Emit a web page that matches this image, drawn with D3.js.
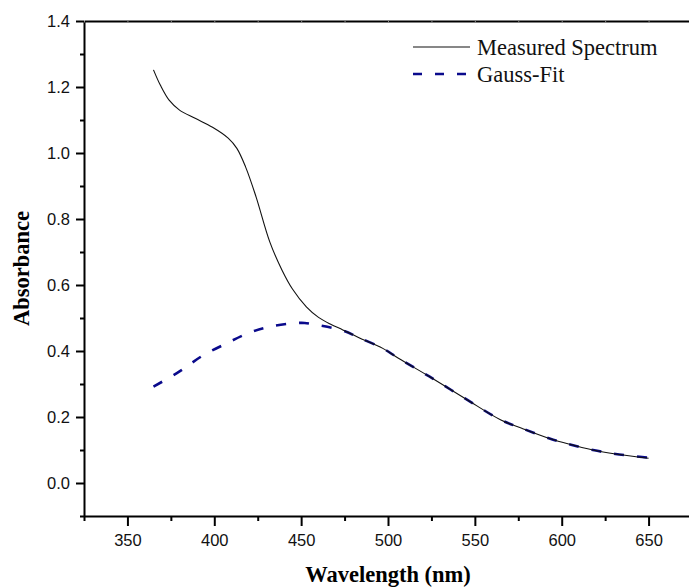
<!DOCTYPE html>
<html>
<head>
<meta charset="utf-8">
<script src="https://cdn.jsdelivr.net/npm/d3@7"></script>
<style>
  body { margin: 0; background: #fff; }
  svg { display: block; }
  .tick text { font-family: "Liberation Sans", Arial, sans-serif; font-size: 16.5px; fill: #111; }
</style>
</head>
<body>
<div id="chart"></div>
<script>
// wavelength (nm) and absorbance
const measuredWl = [365, 369, 374, 380, 389, 399, 408, 413, 418, 424, 432, 439, 445, 453, 460, 467, 474, 483, 497, 506, 524, 545, 565, 577, 593, 604, 618, 631, 650];
const measuredAbs = [1.252, 1.205, 1.160, 1.130, 1.105, 1.078, 1.045, 1.014, 0.958, 0.868, 0.730, 0.645, 0.588, 0.534, 0.502, 0.481, 0.464, 0.441, 0.408, 0.378, 0.322, 0.254, 0.191, 0.166, 0.135, 0.118, 0.100, 0.088, 0.075];

const fitWl = [365, 380, 393, 407, 420, 432, 446, 452, 459, 474, 483, 497, 506, 524, 545, 565, 577, 593, 604, 618, 631, 650];
const fitAbs = [0.292, 0.338, 0.385, 0.423, 0.455, 0.474, 0.484, 0.485, 0.479, 0.462, 0.441, 0.408, 0.378, 0.322, 0.254, 0.191, 0.166, 0.135, 0.118, 0.100, 0.088, 0.077];

const xTicks = [350, 400, 450, 500, 550, 600, 650];
const yTicks = [0.0, 0.2, 0.4, 0.6, 0.8, 1.0, 1.2, 1.4];
const seriesNames = ['Measured Spectrum', 'Gauss-Fit'];

const width = 689;
const height = 587;
const margin = { top: 21, right: -3, bottom: 71, left: 84 };

const x = d3.scaleLinear().domain([325, 675]).range([margin.left, width - margin.right]);
const y = d3.scaleLinear().domain([-0.1, 1.4]).range([height - margin.bottom, margin.top]);

const svg = d3.select('#chart').append('svg')
  .attr('width', width)
  .attr('height', height);

const line = d3.line()
  .x(d => x(d[0]))
  .y(d => y(d[1]))
  .curve(d3.curveCatmullRom.alpha(0.5));

const measured = measuredWl.map((w, i) => [w, measuredAbs[i]]);
const fit = fitWl.map((w, i) => [w, fitAbs[i]]);

svg.append('path')
  .datum(fit)
  .attr('d', line)
  .attr('fill', 'none')
  .attr('stroke', '#0a0a8c')
  .attr('stroke-width', 2.6)
  .attr('stroke-dasharray', '10,13');

svg.append('path')
  .datum(measured)
  .attr('d', line)
  .attr('fill', 'none')
  .attr('stroke', '#111')
  .attr('stroke-width', 1.1);

// minor ticks first, then major with labels
const xMinor = d3.range(325, 676, 50);
const yMinor = d3.range(-0.1, 1.45, 0.2);

svg.append('g')
  .attr('transform', `translate(0,${y(-0.1)})`)
  .call(d3.axisBottom(x).tickValues(xMinor).tickSize(5).tickFormat(''))
  .call(g => g.select('.domain').remove())
  .selectAll('line').attr('stroke-width', 2);

svg.append('g')
  .attr('transform', `translate(${x(325)},0)`)
  .call(d3.axisLeft(y).tickValues(yMinor).tickSize(4).tickFormat(''))
  .call(g => g.select('.domain').remove())
  .selectAll('line').attr('stroke-width', 2);

const xAxis = svg.append('g')
  .attr('transform', `translate(0,${y(-0.1)})`)
  .call(d3.axisBottom(x).tickValues(xTicks).tickSize(10).tickPadding(8).tickSizeOuter(0));
xAxis.select('.domain').attr('stroke-width', 2);
xAxis.selectAll('line').attr('stroke-width', 2);

const yAxis = svg.append('g')
  .attr('transform', `translate(${x(325)},0)`)
  .call(d3.axisLeft(y).tickValues(yTicks).tickSize(8).tickPadding(6).tickFormat(d3.format('.1f')).tickSizeOuter(0));
yAxis.select('.domain').attr('stroke-width', 2);
yAxis.selectAll('line').attr('stroke-width', 2);
yAxis.selectAll('text').attr('dy', '0.36em');

// top frame
svg.append('g')
  .attr('transform', `translate(0,${y(1.4)})`)
  .call(d3.axisBottom(x).tickValues(d3.range(325, 676, 25)).tickSize(1.5).tickFormat('').tickSizeOuter(0))
  .call(g => g.select('.domain').attr('stroke-width', 2))
  .selectAll('line').attr('stroke-width', 1).attr('stroke', '#888');

// axis titles
svg.append('text')
  .attr('x', (x(325) + x(675)) / 2)
  .attr('y', 582)
  .attr('text-anchor', 'middle')
  .style('font-family', '"Liberation Serif", "Times New Roman", serif')
  .style('font-weight', 'bold')
  .style('font-size', '22.5px')
  .text('Wavelength (nm)');

svg.append('text')
  .attr('transform', `translate(29,${(y(-0.1) + y(1.4)) / 2}) rotate(-90)`)
  .attr('text-anchor', 'middle')
  .style('font-family', '"Liberation Serif", "Times New Roman", serif')
  .style('font-weight', 'bold')
  .style('font-size', '22.5px')
  .text('Absorbance');

// legend
const legend = svg.append('g').attr('transform', 'translate(413,47)');
const styles = [
  { stroke: '#111', width: 1.1, dash: null },
  { stroke: '#0a0a8c', width: 2.6, dash: '9,13' }
];
seriesNames.forEach((name, i) => {
  const g = legend.append('g').attr('transform', `translate(0,${i * 27})`);
  g.append('line')
    .attr('x1', 0).attr('x2', 57)
    .attr('stroke', styles[i].stroke)
    .attr('stroke-width', styles[i].width)
    .attr('stroke-dasharray', styles[i].dash);
  g.append('text')
    .attr('x', 64)
    .attr('y', 7.5)
    .style('font-family', '"Liberation Serif", "Times New Roman", serif')
    .style('font-size', '22.5px')
    .style('fill', '#111')
    .text(name);
});
</script>
</body>
</html>
